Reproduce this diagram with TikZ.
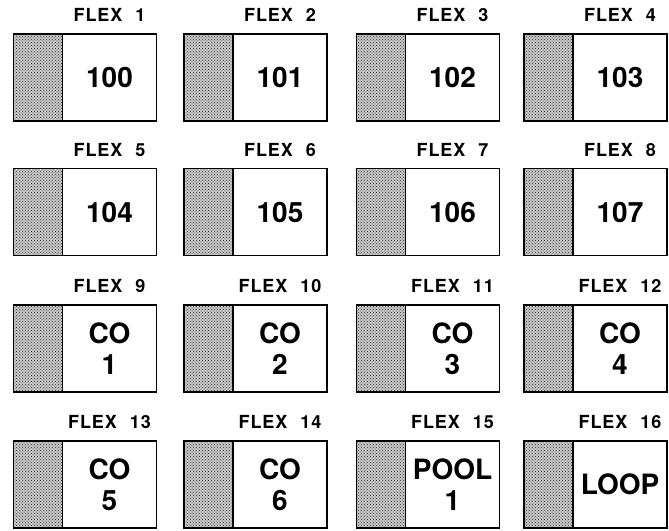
\documentclass[tikz,border=0pt]{standalone}
\usepackage{fontspec}
\setmainfont{TeX Gyre Heros}
\newfontfamily\flexfont[LetterSpace=5,WordSpace=2.2]{TeX Gyre Heros}
\usepackage{tikz}
\usetikzlibrary{positioning,patterns}

\begin{document}
\begin{tikzpicture}[
    x=1pt, y=-1pt,
    numbox/.style={rectangle, draw, line width=1.4pt, minimum width=94pt, minimum height=87pt, outer sep=0pt, align=center, font=\fontsize{28}{31}\selectfont\bfseries},
    shadebox/.style={rectangle, draw, line width=1.4pt, minimum width=49pt, minimum height=87pt, outer sep=0pt, preaction={fill=black!22}, pattern=crosshatch dots, pattern color=black!80},
    flexlabel/.style={inner sep=0pt, font=\flexfont\fontsize{18}{20}\selectfont\bfseries}
]
\useasboundingbox (0,0) rectangle (669,530);
% row 1
\node[numbox] (b1) at (109.5,77.5) {100};
\node[numbox] (b2) at (280,77.5) {101};
\node[numbox] (b3) at (452.5,77.5) {102};
\node[numbox] (b4) at (620,77.5) {103};
% row 2
\node[numbox] (b5) at (109.5,212) {104};
\node[numbox] (b6) at (280,212) {105};
\node[numbox] (b7) at (452.5,212) {106};
\node[numbox] (b8) at (620,212) {107};
% row 3
\node[numbox] (b9) at (109.5,348.5) {CO\\1};
\node[numbox] (b10) at (280,348.5) {CO\\2};
\node[numbox] (b11) at (452.5,348.5) {CO\\3};
\node[numbox] (b12) at (620,348.5) {CO\\4};
% row 4
\node[numbox] (b13) at (109.5,484.5) {CO\\5};
\node[numbox] (b14) at (280,484.5) {CO\\6};
\node[numbox] (b15) at (452.5,484.5) {POOL\\1};
\node[numbox] (b16) at (620,484.5) {LOOP};
% shaded strips
\node[shadebox, left=0pt of b1] (s1) {};
\node[shadebox, left=0pt of b2] (s2) {};
\node[shadebox, left=0pt of b3] (s3) {};
\node[shadebox, left=0pt of b4] (s4) {};
\node[shadebox, left=0pt of b5] (s5) {};
\node[shadebox, left=0pt of b6] (s6) {};
\node[shadebox, left=0pt of b7] (s7) {};
\node[shadebox, left=0pt of b8] (s8) {};
\node[shadebox, left=0pt of b9] (s9) {};
\node[shadebox, left=0pt of b10] (s10) {};
\node[shadebox, left=0pt of b11] (s11) {};
\node[shadebox, left=0pt of b12] (s12) {};
\node[shadebox, left=0pt of b13] (s13) {};
\node[shadebox, left=0pt of b14] (s14) {};
\node[shadebox, left=0pt of b15] (s15) {};
\node[shadebox, left=0pt of b16] (s16) {};
% titles
\node[flexlabel, above=12pt of b1] (f1) {FLEX 1};
\node[flexlabel, above=12pt of b2] (f2) {FLEX 2};
\node[flexlabel, above=12pt of b3] (f3) {FLEX 3};
\node[flexlabel, above=12pt of b4] (f4) {FLEX 4};
\node[flexlabel, above=12pt of b5] (f5) {FLEX 5};
\node[flexlabel, above=12pt of b6] (f6) {FLEX 6};
\node[flexlabel, above=12pt of b7] (f7) {FLEX 7};
\node[flexlabel, above=12pt of b8] (f8) {FLEX 8};
\node[flexlabel, above=12pt of b9] (f9) {FLEX 9};
\node[flexlabel, above=12pt of b10] (f10) {FLEX 10};
\node[flexlabel, above=12pt of b11] (f11) {FLEX 11};
\node[flexlabel, above=12pt of b12] (f12) {FLEX 12};
\node[flexlabel, above=12pt of b13] (f13) {FLEX 13};
\node[flexlabel, above=12pt of b14] (f14) {FLEX 14};
\node[flexlabel, above=12pt of b15] (f15) {FLEX 15};
\node[flexlabel, above=12pt of b16] (f16) {FLEX 16};
\end{tikzpicture}
\end{document}
